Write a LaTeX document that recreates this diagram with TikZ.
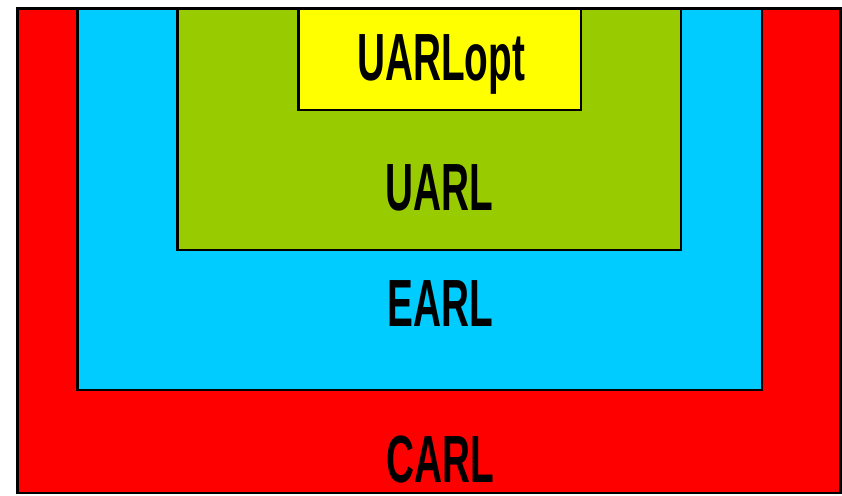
\documentclass[tikz,border=0pt]{standalone}
\usepackage{fontspec}
\setmainfont{Liberation Sans}
\definecolor{carlred}{HTML}{FF0000}
\definecolor{earlblue}{HTML}{00CCFF}
\definecolor{uarlgreen}{HTML}{99CC00}
\definecolor{optyellow}{HTML}{FFFF00}
\tikzset{
  level/.style={draw=black, line width=0.08cm},
  levellabel/.style={anchor=base, inner sep=0pt, font=\fontsize{57}{60}\selectfont\bfseries}
}
\newcommand{\narrow}[1]{\scalebox{0.58}[1]{#1}}
\begin{document}
\begin{tikzpicture}[x=0.03cm, y=-0.03cm]

  % Fix the page size
  \useasboundingbox (0,0) rectangle (842,495);

  % Define the corners of the nested levels
  \coordinate (carlTL) at (17.5,8.5);
  \coordinate (carlBR) at (840.5,493);
  \coordinate (earlTL) at (77.5,8.5);
  \coordinate (earlBR) at (762,390);
  \coordinate (uarlTL) at (177.5,8.5);
  \coordinate (uarlBR) at (681,250);
  \coordinate (optTL) at (298.5,8.5);
  \coordinate (optBR) at (581,110);

  % Draw the levels, outer first
  \draw[level, fill=carlred] (carlTL) rectangle (carlBR);
  \draw[level, fill=earlblue] (earlTL) rectangle (earlBR);
  \draw[level, fill=uarlgreen] (uarlTL) rectangle (uarlBR);
  \draw[level, fill=optyellow] (optTL) rectangle (optBR);

  % Add labels for the levels
  \node[levellabel] (opt) at (441,80) {\narrow{UARLopt}};
  \node[levellabel] (uarl) at (439,210) {\narrow{UARL}};
  \node[levellabel] (earl) at (440,326) {\narrow{EARL}};
  \node[levellabel] (carl) at (440,482) {\narrow{CARL}};

\end{tikzpicture}
\end{document}
